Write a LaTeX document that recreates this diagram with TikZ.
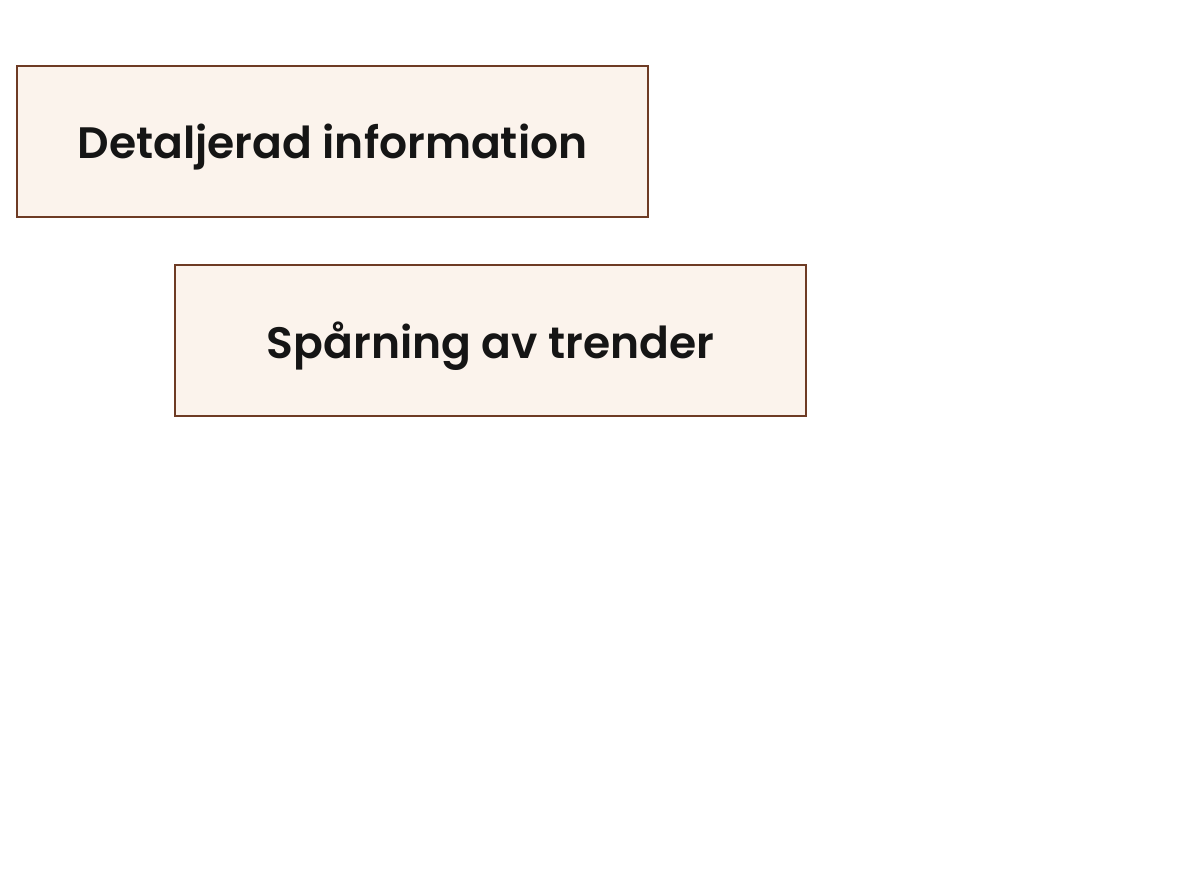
\documentclass[tikz,border=0pt]{standalone}
\usepackage{fontspec}
\setmainfont{Poppins}[BoldFont={Poppins SemiBold}]
\usetikzlibrary{shadows}
\definecolor{boxfill}{HTML}{FBF3EC}
\definecolor{boxline}{HTML}{6E3B24}
\definecolor{txt}{HTML}{151515}
\begin{document}
\begin{tikzpicture}[x=0.75pt,y=-0.75pt,
  infobox/.style={draw=boxline,line width=1.5pt,fill=boxfill,
    drop shadow={shadow xshift=1pt,shadow yshift=-1pt,opacity=0.25,fill=black!60},
    minimum width=631*0.75pt,minimum height=151*0.75pt,inner sep=0pt,text depth=0pt,
    text=txt,font=\fontsize{33}{40}\selectfont\bfseries}]
\useasboundingbox[fill=white] (0,0) rectangle (1193,896);
\node[infobox] (a) at (332.5,141.5) {Detaljerad information};
\node[infobox] (b) at (490.5,340.5) {Spårning av trender};
\end{tikzpicture}
\end{document}
